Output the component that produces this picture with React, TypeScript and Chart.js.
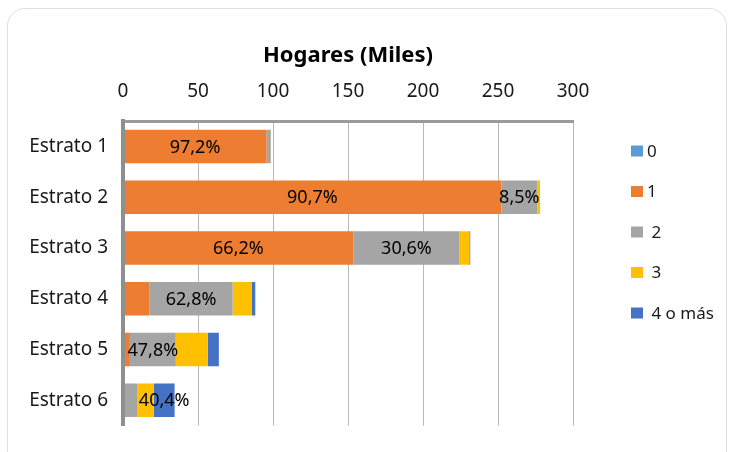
import React, { useEffect, useRef } from "react";
import { Chart, registerables } from "chart.js";

Chart.register(...registerables);

const categories = ["Estrato 1", "Estrato 2", "Estrato 3", "Estrato 4", "Estrato 5", "Estrato 6"];
const seriesNames = ["0", "1", " 2", " 3", " 4 o más"];
const seriesColors = ["#5B9BD5", "#ED7D31", "#A5A5A5", "#FFC000", "#4472C4"];

const values0 = [0, 0, 0, 0, 0, 0];
const values1 = [95.7, 252.2, 153.5, 17.7, 4.6, 0.3];
const values2 = [2.8, 24.0, 70.9, 55.4, 30.6, 9.4];
const values3 = [0.2, 1.5, 6.5, 12.9, 21.4, 10.8];
const values4 = [0.0, 0.3, 0.6, 2.2, 7.3, 13.9];

const labels0: (string | null)[] = [null, null, null, null, null, null];
const labels1: (string | null)[] = ["97,2%", "90,7%", "66,2%", null, null, null];
const labels2: (string | null)[] = [null, "8,5%", "30,6%", "62,8%", "47,8%", null];
const labels3: (string | null)[] = [null, null, null, null, null, null];
const labels4: (string | null)[] = [null, null, null, null, null, "40,4%"];

const axisTicks = [0, 50, 100, 150, 200, 250, 300];
const axisTitle = "Hogares (Miles)";

const FONT = "'Noto Sans', sans-serif";

const dataLabelPlugin = {
  id: "dataLabelPlugin",
  afterDatasetsDraw(chart: any) {
    const ctx = chart.ctx;
    ctx.save();
    ctx.font = `18px ${FONT}`;
    ctx.fillStyle = "#000000";
    ctx.textAlign = "center";
    ctx.textBaseline = "middle";
    chart.data.datasets.forEach((ds: any, di: number) => {
      const meta = chart.getDatasetMeta(di);
      meta.data.forEach((el: any, i: number) => {
        const t = ds.pctLabels ? ds.pctLabels[i] : null;
        if (!t) return;
        const cx = (el.x + el.base) / 2;
        ctx.fillText(t, cx, el.y + 1);
      });
    });
    ctx.restore();
  },
};

const legendPlugin = {
  id: "sideLegend",
  afterDraw(chart: any) {
    const ctx = chart.ctx;
    const area = chart.chartArea;
    ctx.save();
    ctx.font = `17px ${FONT}`;
    ctx.textAlign = "left";
    ctx.textBaseline = "middle";
    chart.data.datasets.forEach((ds: any, i: number) => {
      const cy = area.top + 30 + i * 40.5;
      const bx = area.right + 58;
      ctx.fillStyle = ds.backgroundColor;
      ctx.fillRect(bx, cy - 5.5, 12, 11);
      ctx.fillStyle = "#1a1a1a";
      ctx.fillText(ds.label, bx + 16, cy + 1);
    });
    ctx.restore();
  },
};

export default function App() {
  const ref = useRef<HTMLCanvasElement | null>(null);

  useEffect(() => {
    document.body.style.margin = "0";
    document.body.style.overflow = "hidden";
    const canvas = ref.current;
    if (!canvas) return;
    Chart.defaults.font.family = FONT;
    const valueSets = [values0, values1, values2, values3, values4];
    const labelSets = [labels0, labels1, labels2, labels3, labels4];
    const chart = new Chart(canvas, {
      type: "bar",
      data: {
        labels: categories,
        datasets: valueSets.map((v, i) => ({
          label: seriesNames[i],
          data: v,
          backgroundColor: seriesColors[i],
          borderWidth: 0,
          barPercentage: 0.66,
          categoryPercentage: 1,
          pctLabels: labelSets[i],
        })) as any,
      },
      options: {
        indexAxis: "y",
        animation: false,
        responsive: false,
        devicePixelRatio: 1,
        layout: { padding: { left: 0, right: 161, top: 0, bottom: 22 } },
        plugins: {
          legend: { display: false },
          tooltip: { enabled: false },
          title: { display: false },
        },
        scales: {
          x: {
            position: "top",
            stacked: true,
            min: 0,
            max: 300,
            afterBuildTicks: (scale: any) => {
              scale.ticks = axisTicks.map((v) => ({ value: v }));
            },
            afterFit: (scale: any) => {
              scale.height = 121;
            },
            ticks: {
              padding: 18,
              color: "#1a1a1a",
              font: { size: 19, family: FONT },
            },
            grid: { color: "#b8b8b8", lineWidth: 1, drawTicks: false },
            border: { display: true, color: "#9b9b9b", width: 3, z: 1 },
            title: {
              display: true,
              text: axisTitle,
              color: "#000000",
              font: { size: 22, weight: "bold", family: FONT },
              padding: { top: 43, bottom: 0 },
            },
          },
          y: {
            stacked: true,
            afterFit: (scale: any) => {
              scale.width = 123;
            },
            ticks: {
              padding: 15,
              color: "#1a1a1a",
              font: { size: 19, family: FONT },
            },
            grid: { display: false, drawTicks: false },
            border: { display: true, color: "#8f8f8f", width: 4, z: 1 },
          },
        },
      },
      plugins: [dataLabelPlugin, legendPlugin],
    });
    return () => chart.destroy();
  }, []);

  return (
    <div style={{ position: "fixed", left: 0, top: 0, width: 734, height: 452, background: "#ffffff" }}>
      <div
        style={{
          position: "absolute",
          left: 7,
          top: 8,
          width: 720,
          height: 460,
          border: "1px solid #dedede",
          borderRadius: 18,
          boxSizing: "border-box",
        }}
      />
      <canvas ref={ref} width={734} height={452} style={{ position: "absolute", left: 0, top: 0, width: 734, height: 452 }} />
    </div>
  );
}
